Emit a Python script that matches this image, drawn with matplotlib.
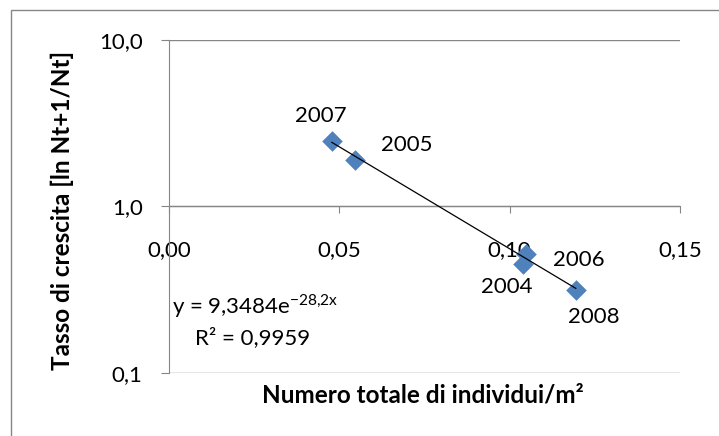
import matplotlib.pyplot as plt
import matplotlib.patches as patches
import numpy as np

plt.rcParams['font.family'] = ['Lato', 'DejaVu Sans']

# dati
anni = ['2007', '2005', '2006', '2004', '2008']
densita = [0.0478, 0.0546, 0.1048, 0.1039, 0.1194]
tasso = [2.49, 1.89, 0.522, 0.449, 0.313]

# curva di tendenza esponenziale (come da etichetta)
coef_a = 9.3484
coef_b = -28.2

x_ticks = [0.0, 0.05, 0.10, 0.15]
x_labels = ['0,00', '0,05', '0,10', '0,15']
y_ticks = [0.1, 1.0, 10.0]
y_labels = ['0,1', '1,0', '10,0']

offsets = {'2007': (-8, 18), '2005': (37, 11), '2006': (38, -5),
           '2004': (-12, -16), '2008': (13, -19)}

grigio = '#868686'
blu = '#4F81BD'

fig = plt.figure(figsize=(7.19, 4.36), dpi=100)
ax = fig.add_axes([169 / 719, 1 - 373 / 436, 511 / 719, 333 / 436])

ax.set_yscale('log')
ax.set_xlim(0, 0.15)
ax.set_ylim(0.1, 10)

for yv in y_ticks:
    ax.axhline(yv, color=grigio, lw=1.0, zorder=1)

# linea di tendenza
xs = np.linspace(min(densita), max(densita), 100)
ax.plot(xs, coef_a * np.exp(coef_b * xs), color='black', lw=0.9, zorder=3)

ax.scatter(densita, tasso, marker='D', s=110, color=blu, zorder=2, linewidths=0)

for anno, xv, yv in zip(anni, densita, tasso):
    ax.annotate(anno, (xv, yv), xytext=offsets[anno], textcoords='offset points',
                ha='center', va='center', fontsize=16)

ax.spines['top'].set_visible(False)
ax.spines['right'].set_visible(False)
ax.spines['left'].set_color(grigio)
ax.spines['bottom'].set_color(grigio)
ax.spines['bottom'].set_position(('data', 1.0))

ax.set_xticks(x_ticks)
ax.set_xticklabels(x_labels)
ax.set_yticks(y_ticks)
ax.set_yticklabels(y_labels)
ax.minorticks_off()
ax.tick_params(axis='x', direction='out', length=5, color=grigio, pad=19, labelsize=16)
ax.tick_params(axis='y', direction='out', length=6, color=grigio, pad=13, labelsize=16)

ax.text(0.006, 0.20, 'y = 9,3484e$^{\\mathregular{-28{,}2x}}$', transform=ax.transAxes,
        fontsize=16, va='center', ha='left')
ax.text(0.051, 0.105, 'R² = 0,9959', transform=ax.transAxes,
        fontsize=16, va='center', ha='left')

fig.text(423 / 719, 1 - 395 / 436, 'Numero totale di individui/m²',
         fontsize=17.5, fontweight='bold', ha='center', va='center')
fig.text(62 / 719, 1 - 210 / 436, 'Tasso di crescita [ln Nt+1/Nt]',
         fontsize=17.5, fontweight='bold', ha='center', va='center', rotation=90)

bordo = patches.Rectangle((11 / 719, -0.1), 1.2, 1 - 10 / 436 + 0.1,
                          transform=fig.transFigure, fill=False,
                          edgecolor=grigio, lw=1.0, clip_on=False)
fig.patches.append(bordo)

fig.savefig('out.png', dpi=100)
